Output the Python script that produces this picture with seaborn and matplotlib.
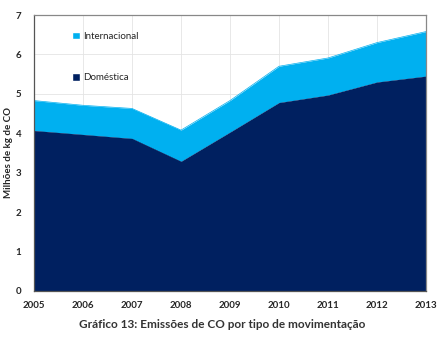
import matplotlib
matplotlib.use("Agg")
import matplotlib.pyplot as plt
import seaborn as sns
import pandas as pd
from matplotlib.patches import Patch

years = [2005, 2006, 2007, 2008, 2009, 2010, 2011, 2012, 2013]
domestica = [4.07, 3.97, 3.87, 3.29, 4.03, 4.78, 4.97, 5.30, 5.45]
internacional = [0.76, 0.74, 0.76, 0.79, 0.80, 0.92, 0.94, 1.00, 1.13]
yticks = [0, 1, 2, 3, 4, 5, 6, 7]

c_dom = "#002060"
c_int = "#00B0F0"

sns.set_style("white")
plt.rcParams["font.family"] = ["Lato", "DejaVu Sans"]

df = pd.DataFrame({"ano": years, "Doméstica": domestica, "Internacional": internacional})
df["total"] = df["Doméstica"] + df["Internacional"]

fig = plt.figure(figsize=(4.44, 3.38), dpi=100)
ax = fig.add_axes([34 / 444, 1 - 291 / 338, 392 / 444, 276 / 338])

sns.lineplot(data=df, x="ano", y="total", ax=ax, color=c_int, linewidth=0.5)
sns.lineplot(data=df, x="ano", y="Doméstica", ax=ax, color=c_dom, linewidth=0.5)
ax.fill_between(df["ano"], df["Doméstica"], df["total"], color=c_int, linewidth=0, zorder=2)
ax.fill_between(df["ano"], 0, df["Doméstica"], color=c_dom, linewidth=0, zorder=2)

ax.set_xlim(2005, 2013)
ax.set_ylim(0, 7)
ax.set_xticks(years)
ax.set_yticks(yticks)
ax.set_xticklabels([str(y) for y in years], fontsize=7, fontweight="bold")
ax.set_yticklabels([str(t) for t in yticks], fontsize=7, fontweight="bold")
ax.grid(True, color="#e4e4e4", linewidth=0.6, zorder=0)
ax.set_axisbelow(True)
ax.tick_params(axis="both", length=4, width=0.8, color="#555555", direction="out")
ax.tick_params(axis="y", pad=5)
ax.tick_params(axis="x", pad=3)

for s in ["left", "bottom"]:
    ax.spines[s].set_color("#555555")
    ax.spines[s].set_linewidth(0.9)
for s in ["top", "right"]:
    ax.spines[s].set_color("#888888")
    ax.spines[s].set_linewidth(0.9)

ax.set_xlabel("")
ax.set_ylabel("Milhões de kg de CO", fontsize=7, fontweight="bold")
ax.yaxis.set_label_coords(-21 / 392, 0.5)

handles = [Patch(facecolor=c_int, label="Internacional"), Patch(facecolor=c_dom, label="Doméstica")]
ax.legend(handles=handles, loc="upper left", bbox_to_anchor=(0.075, 0.97), frameon=False,
          fontsize=7, handlelength=0.8, handleheight=0.8, handletextpad=0.3, labelspacing=3.3)

fig.text(0.5, 1 - 325 / 338, "Gráfico 13: Emissões de CO por tipo de movimentação",
         ha="center", va="center", fontsize=8.5, fontweight="bold", color="#333333")

fig.savefig("out.png", dpi=100)
